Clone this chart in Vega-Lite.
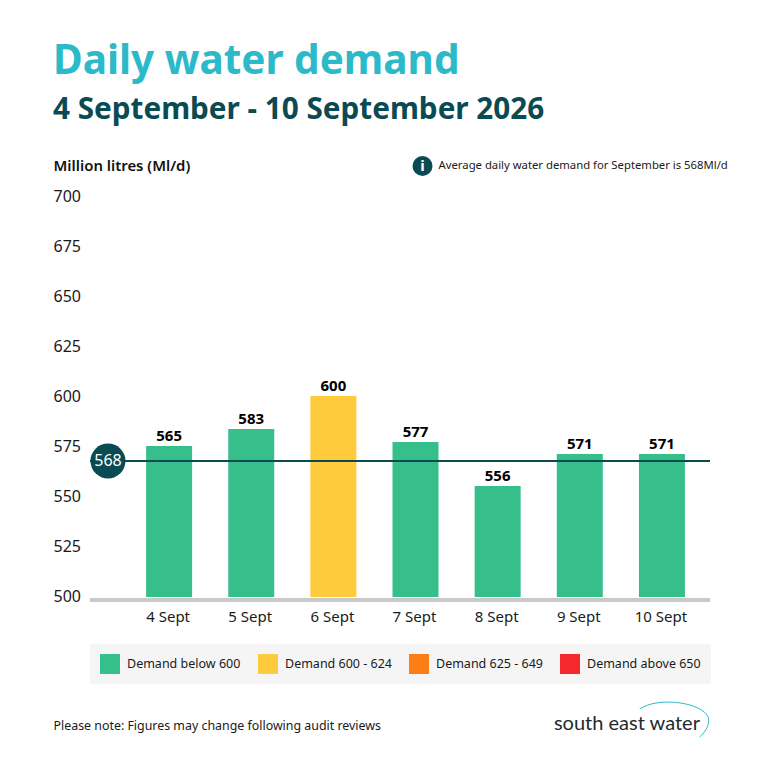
{
  "$schema": "https://vega.github.io/schema/vega-lite/v6.json",
  "width": 620,
  "height": 400,
  "autosize": "none",
  "padding": {"left": 90, "top": 197, "right": 58, "bottom": 171},
  "background": "white",
  "title": {
    "text": "Daily water demand",
    "subtitle": "4 September - 10 September 2026",
    "anchor": "start",
    "frame": "group",
    "dx": -37,
    "offset": 31,
    "fontSize": 40.5,
    "fontWeight": "bold",
    "color": "#2cb9c9",
    "subtitleFontSize": 29.7,
    "subtitleFontWeight": "bold",
    "subtitleColor": "#0a4a52",
    "subtitlePadding": 14
  },
  "datasets": {
    "bars": [
      {"day": "4 Sept", "drawn": 575.5, "label": 565, "band": "Demand below 600"},
      {"day": "5 Sept", "drawn": 584, "label": 583, "band": "Demand below 600"},
      {"day": "6 Sept", "drawn": 600.5, "label": 600, "band": "Demand 600 - 624"},
      {"day": "7 Sept", "drawn": 577.5, "label": 577, "band": "Demand below 600"},
      {"day": "8 Sept", "drawn": 555.5, "label": 556, "band": "Demand below 600"},
      {"day": "9 Sept", "drawn": 571.5, "label": 571, "band": "Demand below 600"},
      {"day": "10 Sept", "drawn": 571.5, "label": 571, "band": "Demand below 600"}
    ],
    "average": [{"slot": "avg", "demand": 568, "text": "568"}],
    "baseline": [{"demand": 500}],
    "info": [{"slot": "7 Sept", "demand": 715.5, "icon": "i", "text": "Average daily water demand for September is 568Ml/d"}],
    "logo": [{"slot": "10 Sept", "demand": 436.5, "text": "south east water"}]
  },
  "layer": [
    {
      "data": {"name": "bars"},
      "mark": {"type": "bar", "width": 46},
      "encoding": {
        "x": {
          "field": "day",
          "type": "nominal",
          "sort": null,
          "scale": {
            "domain": ["avg", "4 Sept", "5 Sept", "6 Sept", "7 Sept", "8 Sept", "9 Sept", "10 Sept"],
            "range": [-44.1, 613],
            "paddingInner": 0.44,
            "paddingOuter": 0.22
          },
          "axis": {
            "domain": false,
            "ticks": false,
            "labelAngle": 0,
            "labelPadding": 12,
            "labelFontSize": 15,
            "labelOffset": -1,
            "labelColor": "#1a1a1a",
            "labelExpr": "datum.value == 'avg' ? '' : datum.value",
            "title": "Please note: Figures may change following audit reviews",
            "titleFontSize": 12.4,
            "titleFontWeight": "normal",
            "titleColor": "#1a1a1a",
            "titleAlign": "left",
            "titleBaseline": "alphabetic",
            "titleX": -37,
            "titleY": 132
          }
        },
        "y": {
          "field": "drawn",
          "type": "quantitative",
          "scale": {"domain": [500, 700], "zero": false, "nice": false},
          "axis": {
            "values": [500, 525, 550, 575, 600, 625, 650, 675, 700],
            "domain": false,
            "ticks": false,
            "grid": false,
            "labelAlign": "left",
            "labelPadding": 37,
            "labelFontSize": 16,
            "labelOffset": -1,
            "labelColor": "#1a1a1a",
            "title": "Million litres (Ml/d)",
            "titleAngle": 0,
            "titleFontSize": 14.9,
            "titleFontWeight": 600,
            "titleColor": "#111111",
            "titleAlign": "left",
            "titleBaseline": "alphabetic",
            "titleX": -37,
            "titleY": -27
          }
        },
        "y2": {"datum": 500},
        "color": {
          "field": "band",
          "type": "nominal",
          "scale": {
            "domain": ["Demand below 600", "Demand 600 - 624", "Demand 625 - 649", "Demand above 650"],
            "range": ["#36bf8a", "#ffcb3c", "#ff7d15", "#f5292b"]
          },
          "legend": {
            "title": null,
            "orient": "none",
            "legendX": 0,
            "legendY": 447,
            "direction": "horizontal",
            "columns": 4,
            "fillColor": "#f5f5f5",
            "padding": 10,
            "columnPadding": 17,
            "symbolType": "square",
            "symbolSize": 400,
            "symbolStrokeWidth": 0,
            "symbolOpacity": 1,
            "labelFontSize": 12.5,
            "labelColor": "#1a1a1a",
            "labelOffset": 7,
            "labelLimit": 200
          }
        }
      }
    },
    {
      "data": {"name": "baseline"},
      "mark": {"type": "rule", "color": "#c9c9c9", "strokeWidth": 4, "yOffset": 3},
      "encoding": {"y": {"field": "demand", "type": "quantitative"}}
    },
    {
      "data": {"name": "average"},
      "mark": {"type": "rule", "color": "#0a4a52", "strokeWidth": 2},
      "encoding": {"y": {"field": "demand", "type": "quantitative"}}
    },
    {
      "data": {"name": "bars"},
      "mark": {"type": "text", "baseline": "alphabetic", "dy": -5, "fontSize": 15, "fontWeight": "bold", "color": "#000000"},
      "encoding": {
        "x": {"field": "day", "type": "nominal", "sort": null},
        "y": {"field": "drawn", "type": "quantitative"},
        "text": {"field": "label", "type": "quantitative"}
      }
    },
    {
      "data": {"name": "average"},
      "mark": {"type": "point", "shape": "circle", "filled": true, "size": 1225, "opacity": 1, "color": "#0a4a52", "xOffset": 21},
      "encoding": {
        "x": {"field": "slot", "type": "nominal", "sort": null},
        "y": {"field": "demand", "type": "quantitative"}
      }
    },
    {
      "data": {"name": "average"},
      "mark": {"type": "text", "fontSize": 16, "color": "white", "xOffset": 21},
      "encoding": {
        "x": {"field": "slot", "type": "nominal", "sort": null},
        "y": {"field": "demand", "type": "quantitative"},
        "text": {"field": "text"}
      }
    },
    {
      "data": {"name": "info"},
      "mark": {"type": "point", "shape": "circle", "filled": true, "size": 400, "opacity": 1, "color": "#0a4a52", "xOffset": 7},
      "encoding": {
        "x": {"field": "slot", "type": "nominal", "sort": null},
        "y": {"field": "demand", "type": "quantitative"}
      }
    },
    {
      "data": {"name": "info"},
      "mark": {"type": "text", "fontSize": 15, "fontWeight": "bold", "color": "white", "xOffset": 7},
      "encoding": {
        "x": {"field": "slot", "type": "nominal", "sort": null},
        "y": {"field": "demand", "type": "quantitative"},
        "text": {"field": "icon"}
      }
    },
    {
      "data": {"name": "info"},
      "mark": {"type": "text", "align": "left", "fontSize": 11.3, "color": "#1a1a1a", "xOffset": 23},
      "encoding": {
        "x": {"field": "slot", "type": "nominal", "sort": null},
        "y": {"field": "demand", "type": "quantitative"},
        "text": {"field": "text"}
      }
    },
    {
      "data": {"name": "logo"},
      "mark": {"type": "text", "align": "center", "font": "Lato", "fontSize": 20, "color": "#1f2a2e", "xOffset": -35},
      "encoding": {
        "x": {"field": "slot", "type": "nominal", "sort": null},
        "y": {"field": "demand", "type": "quantitative"},
        "text": {"field": "text"}
      }
    },
    {
      "data": {"name": "logo"},
      "mark": {
        "type": "point",
        "shape": "M -0.17 -0.22 C 0 -0.32 0.2 -0.34 0.38 -0.33 C 0.72 -0.31 0.98 -0.18 0.98 -0.03 C 0.98 0.07 0.92 0.17 0.83 0.25",
        "size": 14400,
        "opacity": 1,
        "filled": false,
        "color": "#2bb9c9",
        "strokeWidth": 1,
        "xOffset": -12,
        "yOffset": -2
      },
      "encoding": {
        "x": {"field": "slot", "type": "nominal", "sort": null},
        "y": {"field": "demand", "type": "quantitative"}
      }
    }
  ],
  "config": {
    "font": "Noto Sans",
    "view": {"stroke": null}
  }
}
